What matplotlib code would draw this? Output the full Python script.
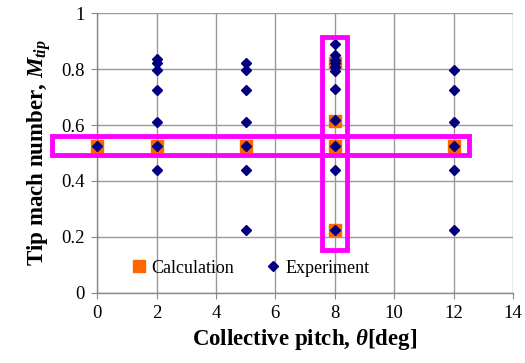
import matplotlib
matplotlib.use("Agg")
import matplotlib.pyplot as plt
from matplotlib.patches import Rectangle

plt.rcParams['font.family'] = ['Liberation Serif', 'DejaVu Serif']
plt.rcParams['mathtext.fontset'] = 'custom'
plt.rcParams['mathtext.rm'] = 'Liberation Serif:bold'
plt.rcParams['mathtext.it'] = 'Liberation Serif:italic:bold'
plt.rcParams['mathtext.bf'] = 'Liberation Serif:bold'

calc_x = [0, 2, 5, 8, 12, 8, 8, 8]
calc_y = [0.525, 0.525, 0.525, 0.525, 0.525, 0.82, 0.615, 0.225]

exp_x = [0,
         2, 2, 2, 2, 2, 2, 2,
         5, 5, 5, 5, 5, 5, 5,
         8, 8, 8, 8, 8, 8, 8, 8, 8, 8, 8,
         12, 12, 12, 12, 12, 12]
exp_y = [0.525,
         0.835, 0.82, 0.796, 0.726, 0.611, 0.525, 0.438,
         0.82, 0.796, 0.726, 0.611, 0.525, 0.438, 0.225,
         0.889, 0.85, 0.832, 0.82, 0.806, 0.794, 0.729, 0.618, 0.525, 0.438, 0.225,
         0.796, 0.726, 0.611, 0.525, 0.438, 0.225]

fig = plt.figure(figsize=(5.25, 3.63), dpi=100)
ax = fig.add_axes([0.185, 0.193, 0.792, 0.771])

ax.plot(calc_x, calc_y, 's', color='#FF6600', markersize=9, label='Calculation', zorder=3, clip_on=False)
ax.plot(exp_x, exp_y, 'D', color='#000080', markersize=5.5, label='Experiment', zorder=4, clip_on=False)

ax.set_xlim(0, 14)
ax.set_ylim(0, 1)
ax.set_xticks(range(0, 15, 2))
ax.set_yticks([0, 0.2, 0.4, 0.6, 0.8, 1])
ax.set_yticklabels(['0', '0.2', '0.4', '0.6', '0.8', '1'])
ax.grid(True, color='#999999', linewidth=1)
ax.set_axisbelow(True)
for s in ['top', 'right']:
    ax.spines[s].set_visible(False)
for s in ['left', 'bottom']:
    ax.spines[s].set_color('#888888')
    ax.spines[s].set_linewidth(1)
ax.tick_params(direction='out', length=4, color='#888888', labelsize=13.5, pad=5)

ax.set_xlabel(r'Collective pitch, $\theta$[deg]', fontsize=16.5, fontweight='bold', labelpad=3)
ax.set_ylabel(r'Tip mach number, $M_{tip}$', fontsize=16.5, fontweight='bold', labelpad=6)

ax.add_patch(Rectangle((-1.52, 0.493), 14.05, 0.068, fill=False, edgecolor='#FF00FF',
                       linewidth=3.5, clip_on=False, zorder=5))
ax.add_patch(Rectangle((7.58, 0.154), 0.84, 0.76, fill=False, edgecolor='#FF00FF',
                       linewidth=3.5, clip_on=False, zorder=5))

leg = ax.legend(loc='lower center', bbox_to_anchor=(0.365, 0.0), ncol=2, frameon=False,
                fontsize=13, handletextpad=0.05, columnspacing=1.6, handlelength=1.2)
fig.savefig('out.png', dpi=100)
